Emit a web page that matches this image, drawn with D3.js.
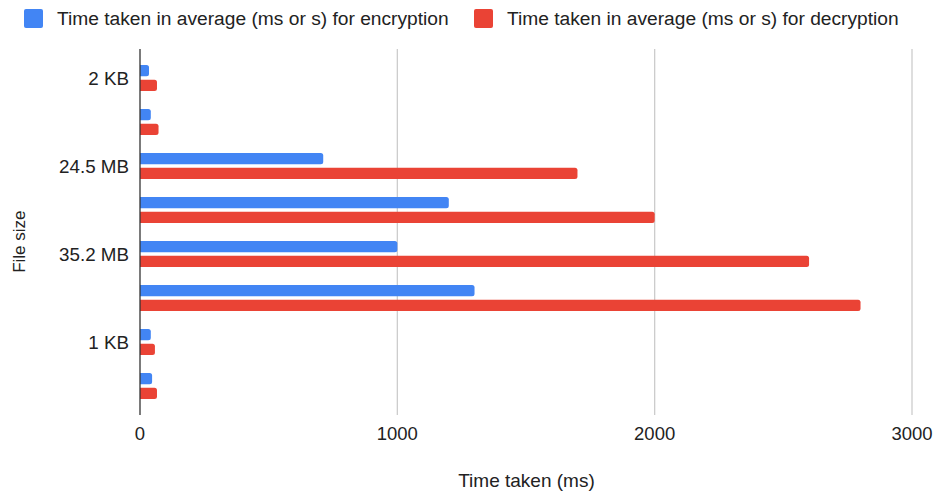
<!DOCTYPE html>
<html>
<head>
<meta charset="utf-8">
<script src="https://cdn.jsdelivr.net/npm/d3@7"></script>
<style>
  body { margin: 0; background: #fff; }
  text { font-family: "Liberation Sans", Arial, sans-serif; }
</style>
</head>
<body>
<script>
// chart data
const categories = ["2 KB", "", "24.5 MB", "", "35.2 MB", "", "1 KB", ""];
const encryption = [35, 42, 712, 1200, 1000, 1300, 42, 47];
const decryption = [66, 72, 1700, 2000, 2600, 2800, 58, 66];
const seriesNames = [
  "Time taken in average (ms or s) for encryption",
  "Time taken in average (ms or s) for decryption"
];
const xTicks = [0, 1000, 2000, 3000];

const width = 938, height = 497;
const colors = ["#4285f4", "#ea4335"];

const svg = d3.select("body").append("svg")
  .attr("width", width).attr("height", height);

// scales
const x = d3.scaleLinear().domain([0, 3000]).range([140, 912]);
const y = d3.scaleBand().domain(d3.range(categories.length)).range([56, 408]);
const inner = d3.scaleBand().domain([0, 1]).range([-13, 13]).paddingInner(0.25);

const rows = categories.map(function(c, i) {
  return { i: i, label: c, values: [encryption[i], decryption[i]] };
});

// gridlines
svg.append("g").selectAll("line")
  .data(xTicks.filter(function(d) { return d > 0; }))
  .enter().append("line")
  .attr("x1", function(d) { return x(d); })
  .attr("x2", function(d) { return x(d); })
  .attr("y1", 49).attr("y2", 415)
  .attr("stroke", "#cccccc").attr("stroke-width", 1.3);

// bars
const groups = svg.append("g").selectAll("g")
  .data(rows).enter().append("g")
  .attr("transform", function(d) { return "translate(0," + (y(d.i) + y.bandwidth() / 2) + ")"; });

groups.selectAll("path")
  .data(function(d) { return d.values.map(function(v, k) { return { v: v, k: k }; }); })
  .enter().append("path")
  .attr("fill", function(d) { return colors[d.k]; })
  .attr("d", function(d) {
    const x0 = x(0), x1 = x(d.v), y0 = inner(d.k), h = inner.bandwidth();
    const r = Math.min(2.5, (x1 - x0) / 2);
    // square on the axis side, rounded at the end
    return "M" + x0 + "," + y0 + "H" + (x1 - r) +
      "Q" + x1 + "," + y0 + " " + x1 + "," + (y0 + r) +
      "V" + (y0 + h - r) +
      "Q" + x1 + "," + (y0 + h) + " " + (x1 - r) + "," + (y0 + h) +
      "H" + x0 + "Z";
  });

// y axis line
svg.append("line")
  .attr("x1", x(0)).attr("x2", x(0))
  .attr("y1", 49).attr("y2", 415)
  .attr("stroke", "#333333").attr("stroke-width", 1.3);

// y tick labels
svg.append("g").selectAll("text")
  .data(rows).enter().append("text")
  .attr("x", 129)
  .attr("y", function(d) { return y(d.i) + y.bandwidth() / 2 + 6.5; })
  .attr("text-anchor", "end")
  .attr("font-size", 18.8)
  .attr("fill", "#222222")
  .text(function(d) { return d.label; });

// x tick labels
svg.append("g").selectAll("text")
  .data(xTicks).enter().append("text")
  .attr("x", function(d) { return x(d); })
  .attr("y", 440)
  .attr("text-anchor", "middle")
  .attr("font-size", 18.5)
  .attr("fill", "#222222")
  .text(function(d) { return d; });

// axis titles
svg.append("text")
  .attr("x", 526.5).attr("y", 487)
  .attr("text-anchor", "middle")
  .attr("font-size", 19)
  .attr("fill", "#222222")
  .text("Time taken (ms)");

svg.append("text")
  .attr("transform", "translate(25,241.7) rotate(-90)")
  .attr("text-anchor", "middle")
  .attr("font-size", 17)
  .attr("fill", "#222222")
  .text("File size");

// legend
const legendX = [24, 474];
const legend = svg.append("g").selectAll("g")
  .data(seriesNames).enter().append("g")
  .attr("transform", function(d, i) { return "translate(" + legendX[i] + ",9)"; });
legend.append("rect")
  .attr("width", 19).attr("height", 19).attr("rx", 2)
  .attr("fill", function(d, i) { return colors[i]; });
legend.append("text")
  .attr("x", 33).attr("y", 16)
  .attr("font-size", 19.2)
  .attr("fill", "#222222")
  .text(function(d) { return d; });
</script>
</body>
</html>
